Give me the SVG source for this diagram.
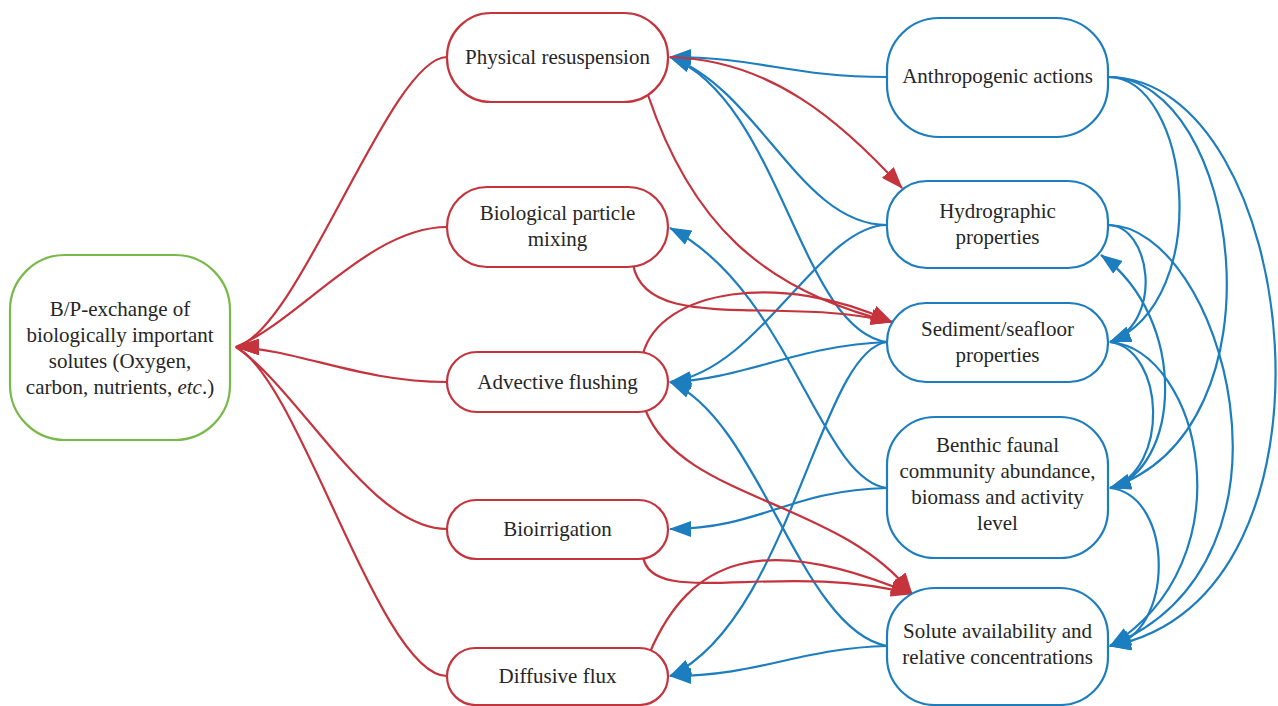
<svg xmlns="http://www.w3.org/2000/svg" width="1278" height="706" viewBox="0 0 1278 706">
<style>
.t{font-family:"Liberation Serif","Times New Roman",serif;font-size:21px;fill:#262626;text-anchor:middle}
.rn{fill:#fff;stroke:#c5333d;stroke-width:2.2}
.bn{fill:#fff;stroke:#1c7dbf;stroke-width:2.2}
.gn{fill:#fff;stroke:#79b94a;stroke-width:2.2}
.re{fill:none;stroke:#c5333d;stroke-width:2.2}
.be{fill:none;stroke:#1c7dbf;stroke-width:2.2}
</style>
<defs>
<marker id="ar" markerUnits="userSpaceOnUse" markerWidth="22" markerHeight="16" viewBox="0 0 22 16" refX="21" refY="8" orient="auto"><path d="M0,0 L22,8 L0,16 z" fill="#c5333d"/></marker>
<marker id="arg" markerUnits="userSpaceOnUse" markerWidth="24" markerHeight="16" viewBox="0 0 24 16" refX="23" refY="8" orient="180"><path d="M0,0 L24,8 L0,16 z" fill="#c5333d"/></marker>
<marker id="ab" markerUnits="userSpaceOnUse" markerWidth="22" markerHeight="16" viewBox="0 0 22 16" refX="21" refY="8" orient="auto"><path d="M0,0 L22,8 L0,16 z" fill="#1c7dbf"/></marker>
</defs>
<rect width="1278" height="706" fill="#fff"/>
<g id="connectors">
<g class="be" marker-end="url(#ab)">
<path d="M887,77 C790,77 760,57 670,57"/>
<path d="M887,225 C800,225 760,90 670,57"/>
<path d="M887,342 C800,330 780,100 670,57"/>
<path d="M887,488 C820,480 790,290 670,228"/>
<path d="M887,225 C820,225 760,370 670,382"/>
<path d="M887,342 C800,345 740,380 670,382"/>
<path d="M887,646 C800,630 760,420 670,382"/>
<path d="M887,488 C790,490 760,529 670,529"/>
<path d="M887,646 C800,648 760,676 670,676"/>
<path d="M887,342 C820,350 790,620 670,676"/>
<path d="M1108,77 C1190,77 1215,300 1110,342"/>
<path d="M1108,77 C1240,77 1290,430 1110,488"/>
<path d="M1108,77 C1300,77 1360,600 1110,646"/>
<path d="M1108,225 C1150,225 1165,320 1110,342"/>
<path d="M1108,225 C1220,225 1320,560 1110,646"/>
<path d="M1110,342 C1165,350 1170,470 1110,488"/>
<path d="M1110,342 C1200,350 1250,560 1110,646"/>
<path d="M1110,488 C1180,470 1190,320 1101,255"/>
<path d="M1110,488 C1175,495 1175,635 1110,646"/>
</g>
<g class="re" marker-end="url(#arg)">
<path d="M447,57 C390,57 300,330 236,347"/>
<path d="M447,227 C370,227 300,320 236,347"/>
<path d="M447,382 C360,382 300,350 236,347"/>
<path d="M447,529 C370,529 300,390 236,347"/>
<path d="M447,676 C380,676 300,380 236,347"/>
</g>
<g class="re" marker-end="url(#ar)">
<path d="M670,57 C770,60 840,120 902,188"/>
<path d="M648,95 C690,220 760,290 892,322"/>
<path d="M633,264 C645,335 780,295 892,322"/>
<path d="M643,354 C660,290 780,270 892,322"/>
<path d="M645,409 C680,500 840,500 912,594"/>
<path d="M643,556 C650,610 780,560 912,594"/>
<path d="M650,652 C690,560 760,530 912,594"/>
</g>
</g>
<g id="bp-exchange"><rect class="gn" x="10" y="255" width="220" height="185" rx="55" ry="55"/>
<text class="t" x="120" y="316">B/P-exchange of</text><text class="t" x="120" y="342">biologically important</text><text class="t" x="120" y="368">solutes (Oxygen,</text><text class="t" x="120" y="394">carbon, nutrients, <tspan font-style="italic">etc</tspan>.)</text></g>
<g id="physical-resuspension"><rect class="rn" x="447" y="13" width="221" height="89" rx="44" ry="44"/><text class="t" x="557.5" y="64">Physical resuspension</text></g>
<g id="biological-particle-mixing"><rect class="rn" x="447" y="187" width="221" height="80" rx="40" ry="40"/><text class="t" x="557.5" y="220">Biological particle</text><text class="t" x="557.5" y="246">mixing</text></g>
<g id="advective-flushing"><rect class="rn" x="447" y="352" width="221" height="60" rx="30" ry="30"/><text class="t" x="557.5" y="389">Advective flushing</text></g>
<g id="bioirrigation"><rect class="rn" x="447" y="500" width="221" height="59" rx="29.5" ry="29.5"/><text class="t" x="557.5" y="536">Bioirrigation</text></g>
<g id="diffusive-flux"><rect class="rn" x="447" y="648" width="221" height="57" rx="28.5" ry="28.5"/><text class="t" x="557.5" y="683">Diffusive flux</text></g>
<g id="anthropogenic-actions"><rect class="bn" x="887" y="18" width="221" height="119" rx="52" ry="52"/><text class="t" x="997.5" y="83">Anthropogenic actions</text></g>
<g id="hydrographic-properties"><rect class="bn" x="887" y="181" width="221" height="87" rx="40" ry="40"/><text class="t" x="997.5" y="218">Hydrographic</text><text class="t" x="997.5" y="244">properties</text></g>
<g id="sediment-properties"><rect class="bn" x="887" y="303" width="221" height="79" rx="39" ry="39"/><text class="t" x="997.5" y="336">Sediment/seafloor</text><text class="t" x="997.5" y="362">properties</text></g>
<g id="benthic-fauna"><rect class="bn" x="887" y="417" width="221" height="141" rx="48" ry="48"/><text class="t" x="997.5" y="452">Benthic faunal</text><text class="t" x="997.5" y="478">community abundance,</text><text class="t" x="997.5" y="504">biomass and activity</text><text class="t" x="997.5" y="530">level</text></g>
<g id="solute-availability"><rect class="bn" x="887" y="588" width="221" height="117" rx="48" ry="48"/><text class="t" x="997.5" y="638">Solute availability and</text><text class="t" x="997.5" y="664">relative concentrations</text></g>
</svg>
